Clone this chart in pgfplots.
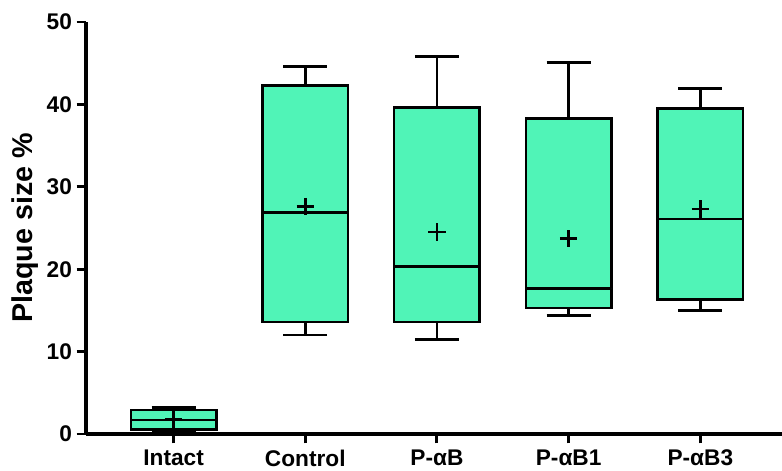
\documentclass[border=0pt]{standalone}
\usepackage{fontspec}
\setmainfont{Liberation Sans}
\usepackage{pgfplots}
\usepgfplotslibrary{statistics}
\pgfplotsset{compat=1.18}
\definecolor{boxfill}{RGB}{80,244,183}
\begin{document}
\begin{tikzpicture}
\begin{axis}[
  scale only axis, width=522pt, height=309pt,
  xmin=0.335, xmax=5.62, ymin=0, ymax=50,
  axis x line=bottom, axis y line=left,
  axis line style={-, line width=2.3pt, black},
  xtick={1,2,3,4,5},
  xticklabels={Intact,Control,P-αB,P-αB1,P-αB3},
  ytick={0,10,20,30,40,50},
  tick align=outside, major tick length=7pt,
  major tick style={line width=2.2pt, black},
  minor tick num=0,
  ticklabel style={font=\fontsize{17}{20}\selectfont\bfseries},
  xticklabel style={yshift=-1.5pt},
  /pgf/number format/assume math mode=true,
  ylabel={Plaque size \%},
  ylabel style={font=\fontsize{21.5}{25}\selectfont\bfseries, at={(axis description cs:-0.0876,0.5)}, anchor=center},
  boxplot/draw direction=y,
  boxplot/box extend=0.65,
  boxplot/whisker extend=0.335,
  boxplot/every average/.style={/tikz/mark=+, /tikz/mark size=6.5pt, /tikz/line width=1.9pt, /tikz/every mark/.append style={line width=1.9pt, black}},
  boxplot/every box/.style={line width=1.9pt, draw=black, fill=boxfill},
  boxplot/every median/.style={line width=1.9pt},
  boxplot/every whisker/.style={line width=1.9pt},
  clip=false,
]
\addplot[boxplot prepared={draw position=1, lower whisker=0.3, lower quartile=0.57, median=1.7, upper quartile=2.9, upper whisker=3.2, average=1.8}, draw=black, fill=boxfill, line width=1.9pt] coordinates {};
\addplot[boxplot prepared={draw position=2, lower whisker=12.0, lower quartile=13.6, median=26.9, upper quartile=42.3, upper whisker=44.6, average=27.6}, draw=black, fill=boxfill, line width=1.9pt] coordinates {};
\addplot[boxplot prepared={draw position=3, lower whisker=11.5, lower quartile=13.6, median=20.35, upper quartile=39.6, upper whisker=45.8, average=24.5}, draw=black, fill=boxfill, line width=1.9pt] coordinates {};
\addplot[boxplot prepared={draw position=4, lower whisker=14.4, lower quartile=15.3, median=17.65, upper quartile=38.3, upper whisker=45.1, average=23.7}, draw=black, fill=boxfill, line width=1.9pt] coordinates {};
\addplot[boxplot prepared={draw position=5, lower whisker=15.0, lower quartile=16.3, median=26.1, upper quartile=39.5, upper whisker=41.9, average=27.3}, draw=black, fill=boxfill, line width=1.9pt] coordinates {};
\end{axis}
\pgfresetboundingbox
\path ([shift={(-64.5pt,-27.75pt)}]current axis.south west) rectangle ([shift={(0pt,16.5pt)}]current axis.north east);
\end{tikzpicture}
\end{document}
